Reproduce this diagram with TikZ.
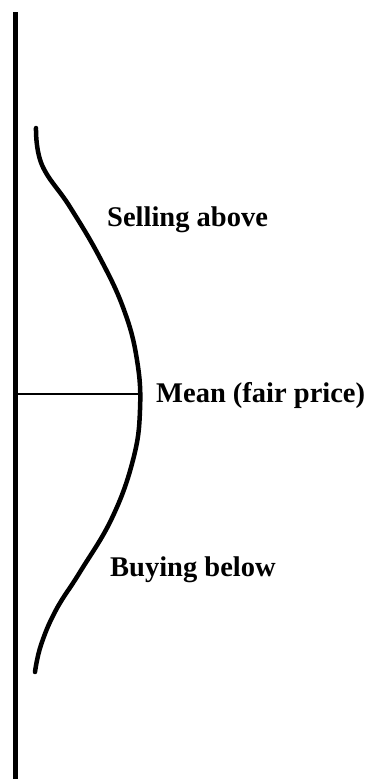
\documentclass[tikz,border=0pt]{standalone}
\usepackage{fontspec}
\setmainfont{Liberation Serif}
\usepackage{tikz}
\usetikzlibrary{positioning}

\begin{document}
\begin{tikzpicture}[x=1pt, y=-1pt,
    axisline/.style={line width=5pt},
    meanline/.style={line width=1.5pt},
    curveline/.style={line width=4.5pt, line cap=round, line join=round},
    zonelabel/.style={anchor=west, inner sep=0pt, font=\fontsize{28.5}{30}\selectfont\bfseries}]
  \useasboundingbox (0,0) rectangle (370,779);
  % price axis
  \coordinate (axistop) at (15,12);
  \coordinate (axisbot) at (15,779);
  \draw[axisline] (axistop) -- (axisbot);
  % distribution curve
  \draw[curveline] plot[smooth, tension=0.7] coordinates {
    (36,128) (42,165) (70,207) (100,258) (124,310) (137,360)
    (140,410) (133,460) (112,518) (80,572) (56,610) (41,645) (35,672)};
  % mean
  \coordinate (meanaxis) at (18,394);
  \coordinate (meanpt) at (140,394);
  \draw[meanline] (meanaxis) -- (meanpt);
  \node[zonelabel] (sell) at (107,220) {Selling above};
  \node[zonelabel] (mean) at (156,395) {Mean (fair price)};
  \node[zonelabel] (buy) at (110,570) {Buying below};
\end{tikzpicture}
\end{document}
